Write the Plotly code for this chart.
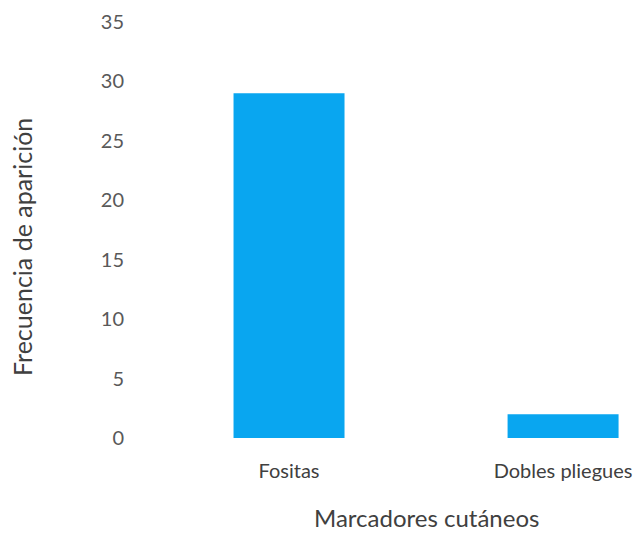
import plotly.graph_objects as go

categories = ["Fositas", "Dobles pliegues"]
frecuencias = [29, 2]
y_ticks = [0, 5, 10, 15, 20, 25, 30, 35]

bar_color = "#09A6F0"
font_family = "Lato, 'Open Sans', sans-serif"

# Plot-area geometry (pixels)
W, H = 642, 535
M_L, M_R, M_T, M_B = 152, 0, 22, 97
plot_w = W - M_L - M_R
plot_h = H - M_T - M_B

fig = go.Figure(
    go.Bar(
        x=[0, 1],
        y=frecuencias,
        marker=dict(color=bar_color, line=dict(width=0)),
        width=0.405,
    )
)

fig.update_layout(
    width=W,
    height=H,
    margin=dict(l=M_L, r=M_R, t=M_T, b=M_B),
    paper_bgcolor="white",
    plot_bgcolor="white",
    showlegend=False,
    font=dict(family=font_family, color="#595959", size=20),
    xaxis=dict(
        range=[-0.5, 1.288],
        tickmode="array",
        tickvals=[0, 1],
        ticktext=categories,
        showgrid=False,
        zeroline=False,
        showline=False,
        ticks="outside",
        ticklen=15,
        tickcolor="rgba(0,0,0,0)",
        tickfont=dict(size=20, color="#404040"),
    ),
    yaxis=dict(
        range=[0, 35],
        tickmode="array",
        tickvals=y_ticks,
        showgrid=False,
        zeroline=False,
        showline=False,
        ticks="outside",
        ticklen=23,
        tickcolor="rgba(0,0,0,0)",
        tickfont=dict(size=20, color="#595959"),
    ),
    annotations=[
        dict(
            text="Marcadores cutáneos",
            x=0.5, xref="x",
            y=(M_T + plot_h - 517) / plot_h, yref="paper",
            xanchor="center", yanchor="middle",
            showarrow=False,
            font=dict(size=24, color="#404040"),
        ),
        dict(
            text="Frecuencia de aparición",
            textangle=-90,
            x=(22 - M_L) / plot_w, xref="paper",
            y=(M_T + plot_h - 247) / plot_h, yref="paper",
            xanchor="center", yanchor="middle",
            showarrow=False,
            font=dict(size=25, color="#404040"),
        ),
    ],
)

fig.write_html("out.html")
